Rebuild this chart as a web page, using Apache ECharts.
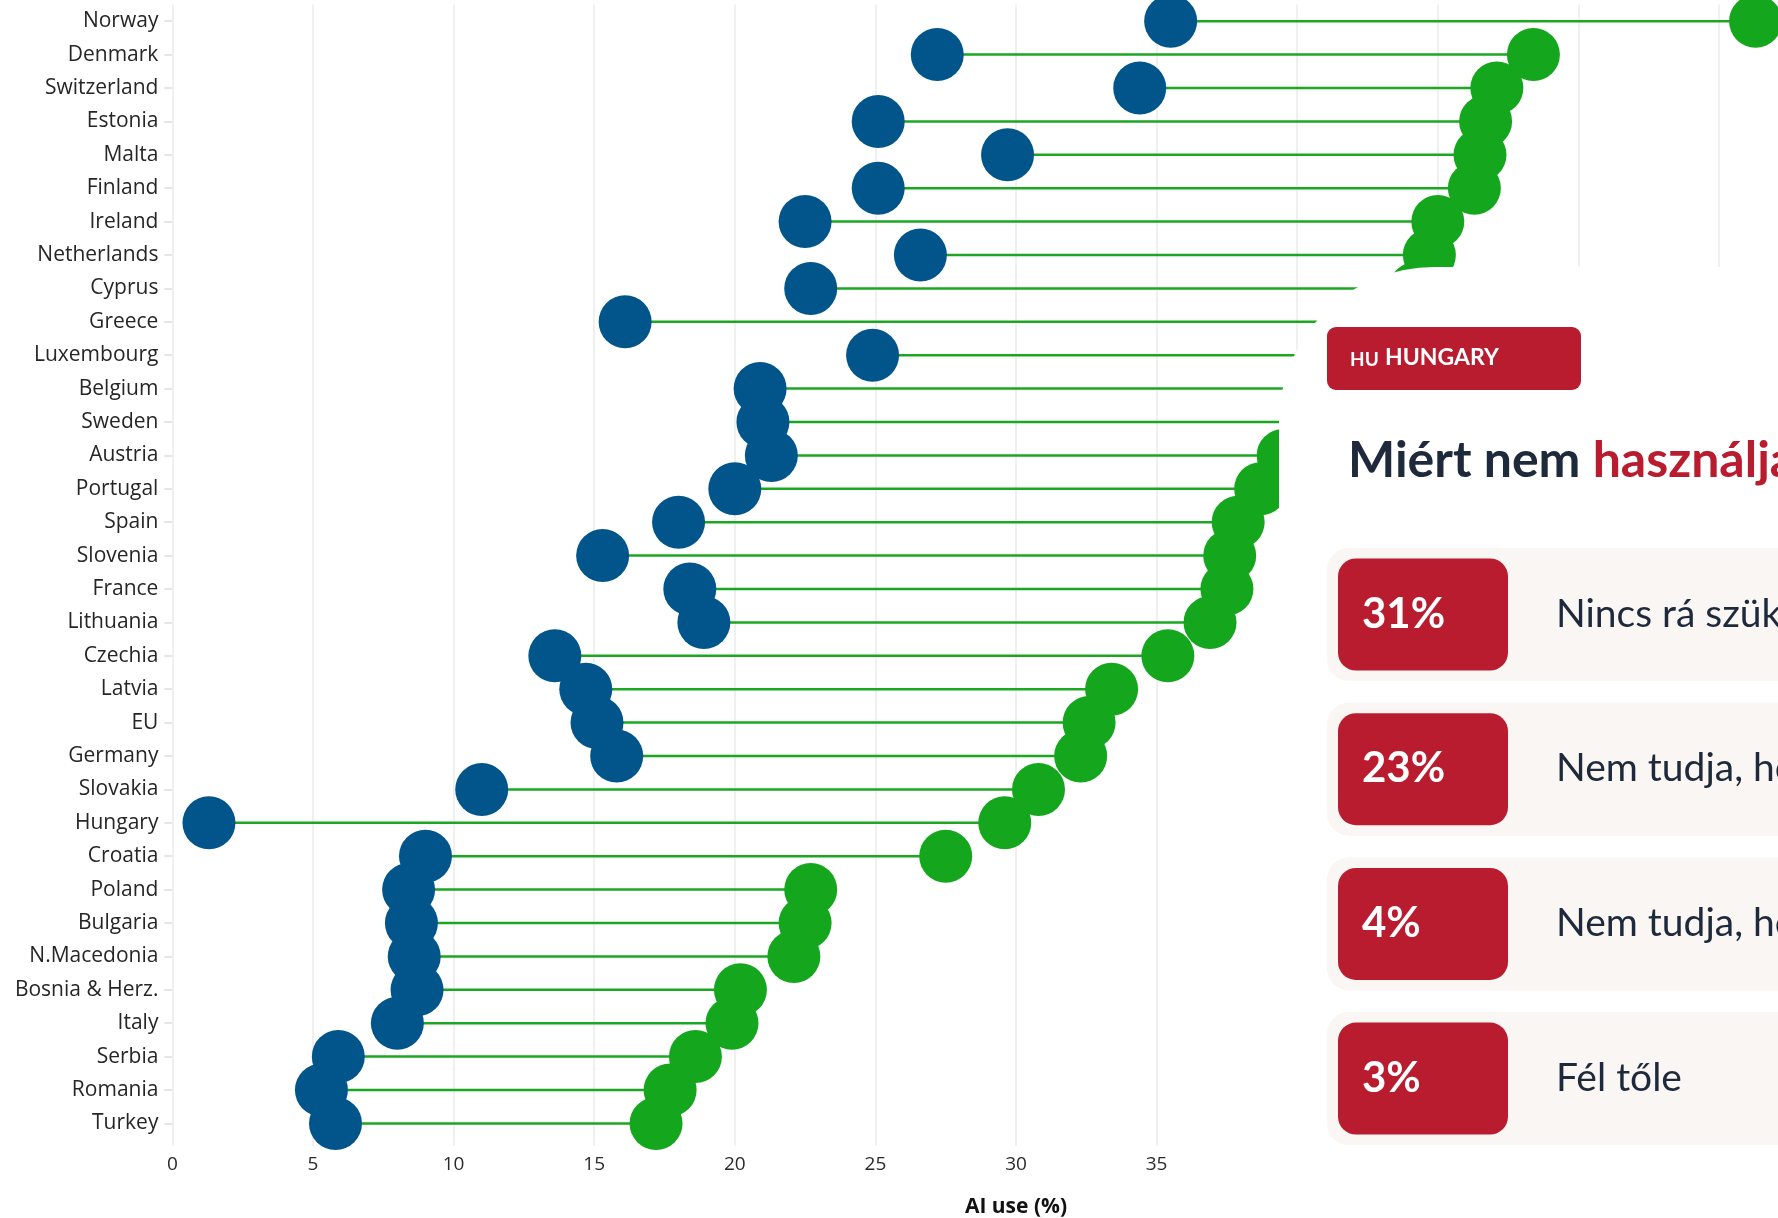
<!DOCTYPE html>
<html>
<head>
<meta charset="utf-8">
<title>AI use by country</title>
<script src="https://cdn.jsdelivr.net/npm/echarts@6/dist/echarts.min.js"></script>
<style>
  html, body { margin: 0; padding: 0; background: #ffffff; }
  #chart { width: 1778px; height: 1218px; }
</style>
</head>
<body>
<div id="chart"></div>
<script>
// Countries, top to bottom
var countries = ['Norway', 'Denmark', 'Switzerland', 'Estonia', 'Malta', 'Finland', 'Ireland',
  'Netherlands', 'Cyprus', 'Greece', 'Luxembourg', 'Belgium', 'Sweden', 'Austria', 'Portugal',
  'Spain', 'Slovenia', 'France', 'Lithuania', 'Czechia', 'Latvia', 'EU', 'Germany', 'Slovakia',
  'Hungary', 'Croatia', 'Poland', 'Bulgaria', 'N.Macedonia', 'Bosnia & Herz.', 'Italy',
  'Serbia', 'Romania', 'Turkey'];

// Lower value of each pair (blue dot), AI use %
var lowValues = [35.5, 27.2, 34.4, 25.1, 29.7, 25.1, 22.5, 26.6, 22.7, 16.1, 24.9, 20.9, 21.0,
  21.3, 20.0, 18.0, 15.3, 18.4, 18.9, 13.6, 14.7, 15.1, 15.8, 11.0, 1.3, 9.0, 8.4, 8.5, 8.6,
  8.7, 8.0, 5.9, 5.3, 5.8];

// Higher value of each pair (green dot), AI use %
var highValues = [56.3, 48.4, 47.1, 46.7, 46.5, 46.3, 45.0, 44.7, 44.2, 43.7, 42.6, 41.5, 40.6,
  39.5, 38.7, 37.9, 37.6, 37.5, 36.9, 35.4, 33.4, 32.6, 32.3, 30.8, 29.6, 27.5, 22.7, 22.5, 22.1,
  20.2, 19.9, 18.6, 17.7, 17.2];

// X axis ticks
var xTicks = [0, 5, 10, 15, 20, 25, 30, 35, 40, 45, 50, 55, 60];

// Hungary side panel: reasons for not using AI
var panelCountry = 'HUNGARY';
var panelCode = 'HU';
var reasonShares = [31, 23, 4, 3];
var reasonTexts = ['Nincs rá szüksége', 'Nem tudja, hogyan használja', 'Nem tudja, hol érheti el', 'Fél tőle'];

var BLUE = '#02558a';
var GREEN = '#14a61c';
var RED = '#b81c2e';
var NAVY = '#1e2a3b';
var CARD = '#f9f6f3';
var PANEL_Z = 100;

var chart = echarts.init(document.getElementById('chart'), null, { renderer: 'canvas' });

// Side panel drawn over the right part of the plot
var panel = [];
panel.push({
  type: 'rect', x: 1279, y: 267, z: PANEL_Z,
  shape: { width: 700, height: 1000, r: [155, 0, 0, 0] },
  style: { fill: '#ffffff' }
});
panel.push({
  type: 'rect', x: 1327, y: 327, z: PANEL_Z + 1,
  shape: { width: 254, height: 63, r: 9 },
  style: { fill: RED }
});
panel.push({
  type: 'text', x: 1350, y: 360, z: PANEL_Z + 2,
  style: { text: panelCode, fill: '#ffffff', fontFamily: 'Lato', fontWeight: 'bold', fontSize: 19, verticalAlign: 'middle' }
});
panel.push({
  type: 'text', x: 1385, y: 358, z: PANEL_Z + 2,
  style: { text: panelCountry, fill: '#ffffff', fontFamily: 'Lato', fontWeight: 'bold', fontSize: 23, verticalAlign: 'middle' }
});
panel.push({
  type: 'text', x: 1348, y: 461, z: PANEL_Z + 2,
  style: {
    text: '{a|Miért nem }{b|használja az AI-t?}',
    verticalAlign: 'middle',
    rich: {
      a: { fill: NAVY, fontFamily: 'Lato', fontWeight: 'bold', fontSize: 50 },
      b: { fill: RED, fontFamily: 'Lato', fontWeight: 'bold', fontSize: 50 }
    }
  }
});
reasonShares.forEach(function (share, i) {
  var top = 548 + i * 154.7;
  panel.push({
    type: 'rect', x: 1327, y: top, z: PANEL_Z + 1,
    shape: { width: 700, height: 133, r: 22 },
    style: { fill: CARD }
  });
  panel.push({
    type: 'rect', x: 1338, y: top + 10.5, z: PANEL_Z + 2,
    shape: { width: 170, height: 112, r: 18 },
    style: { fill: RED }
  });
  panel.push({
    type: 'text', x: 1362, y: top + 66, z: PANEL_Z + 3,
    style: { text: share + '%', fill: '#ffffff', fontFamily: 'Lato', fontWeight: 'bold', fontSize: 42, verticalAlign: 'middle' }
  });
  panel.push({
    type: 'text', x: 1556, y: top + 66, z: PANEL_Z + 3,
    style: { text: reasonTexts[i], fill: NAVY, fontFamily: 'Lato', fontWeight: 'normal', fontSize: 39, verticalAlign: 'middle' }
  });
});

var option = {
  backgroundColor: '#ffffff',
  animation: false,
  grid: {
    left: 172.4, top: 4.5, width: 1687.2, height: 1135.6,
    containLabel: false, outerBoundsMode: 'none'
  },
  xAxis: {
    type: 'value',
    min: xTicks[0], max: xTicks[xTicks.length - 1], interval: 5,
    axisLine: { show: false },
    axisTick: { show: true, length: 6, lineStyle: { color: '#ebebeb', width: 1.5 } },
    splitLine: { show: true, lineStyle: { color: '#ebebeb', width: 1.5 } },
    axisLabel: { fontFamily: 'Open Sans', fontSize: 19, color: '#2a2a2a', margin: 15 },
    name: 'AI use (%)',
    nameLocation: 'middle',
    nameGap: 56,
    nameTextStyle: { fontFamily: 'Open Sans', fontWeight: 'bold', fontSize: 21, color: '#111111' }
  },
  yAxis: {
    type: 'category',
    data: countries,
    inverse: true,
    axisLine: { show: false },
    axisTick: { show: true, alignWithLabel: true, length: 8, lineStyle: { color: '#e6e6e6', width: 2 } },
    splitLine: { show: false },
    axisLabel: { fontFamily: 'Open Sans', fontSize: 21, color: '#262626', margin: 14 }
  },
  series: [
    {
      type: 'custom',
      silent: true,
      z: 1,
      encode: { x: [0, 1], y: 2 },
      data: countries.map(function (c, i) { return [lowValues[i], highValues[i], i]; }),
      renderItem: function (params, api) {
        var row = api.value(2);
        var a = api.coord([api.value(0), row]);
        var b = api.coord([api.value(1), row]);
        return {
          type: 'line',
          shape: { x1: a[0], y1: a[1], x2: b[0], y2: b[1] },
          style: { stroke: '#1ba722', lineWidth: 2.5 }
        };
      }
    },
    {
      type: 'scatter',
      z: 2,
      symbol: 'circle',
      symbolSize: 53,
      itemStyle: { color: BLUE, opacity: 1 },
      data: countries.map(function (c, i) { return [lowValues[i], c]; })
    },
    {
      type: 'scatter',
      z: 3,
      symbol: 'circle',
      symbolSize: 53,
      itemStyle: { color: GREEN, opacity: 1 },
      data: countries.map(function (c, i) { return [highValues[i], c]; })
    }
  ],
  graphic: { elements: panel }
};

chart.setOption(option);
</script>
</body>
</html>
